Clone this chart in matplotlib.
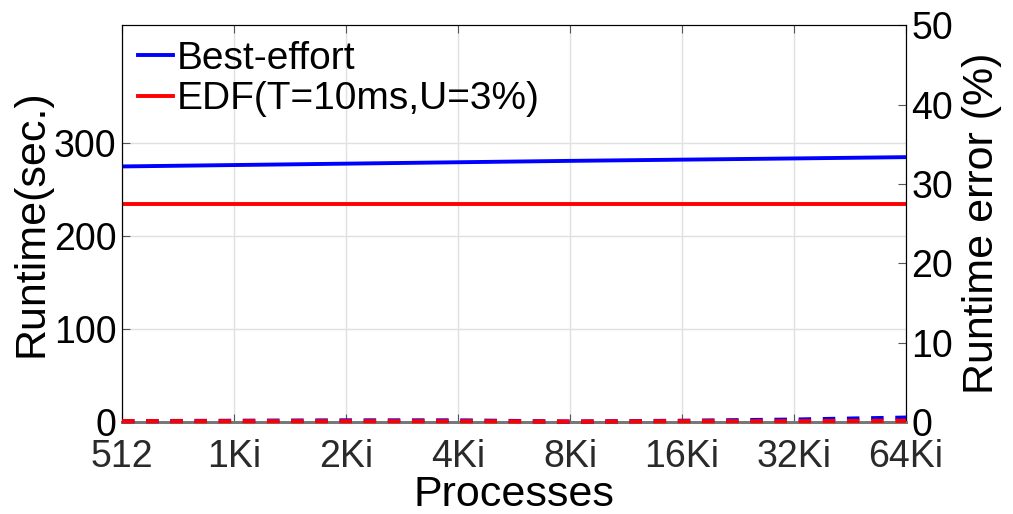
import numpy as np
import matplotlib.pyplot as plt

plt.rcParams['font.family'] = ['Liberation Sans', 'DejaVu Sans']

procs = ['512', '1Ki', '2Ki', '4Ki', '8Ki', '16Ki', '32Ki', '64Ki']
runtime_be = [275, 276.5, 278, 279.5, 281, 282.3, 283.6, 285]
runtime_edf = [235, 235, 235, 235, 235, 235, 235, 235]
err_be = [0.1, 0.15, 0.2, 0.2, 0.05, 0.15, 0.3, 0.55]
err_edf = [0.1, 0.1, 0.1, 0.1, 0.05, 0.1, 0.1, 0.15]

x = np.arange(len(procs))

fig = plt.figure(figsize=(10.13, 5.14), dpi=100)
ax = fig.add_axes([0.1204, 0.179, 0.7740, 0.772])
ax2 = ax.twinx()

ax.plot(x, runtime_be, color='blue', lw=2.8, label='Best-effort')
ax.plot(x, runtime_edf, color='red', lw=2.8, label='EDF(T=10ms,U=3%)')
ax2.plot(x, err_be, color='blue', lw=3, ls=(0, (3, 2.8)), clip_on=False, zorder=5)
ax2.plot(x, err_edf, color='red', lw=3, ls=(0, (3, 2.8)), clip_on=False, zorder=6)

ax.set_xlim(0, len(procs) - 1)
ax.set_ylim(0, 427)
ax.set_yticks([0, 100, 200, 300])
ax2.set_ylim(0, 50)
ax2.set_yticks([0, 10, 20, 30, 40, 50])
ax.set_xticks(x)
ax.set_xticklabels(procs)

ax.grid(True, color='#e0e0e0', lw=1)
ax.set_axisbelow(True)
ax.tick_params(axis='both', labelsize=27, direction='in', length=6, color='#555555', top=True)
ax.tick_params(axis='x', pad=12, labelcolor='#2a2a2a')
ax.tick_params(axis='y', pad=4)
ax2.tick_params(axis='y', labelsize=27, direction='in', length=6, color='#555555', pad=4)
ax.spines['bottom'].set_color('#777777')
ax.spines['bottom'].set_linewidth(2)
ax2.spines['bottom'].set_color('#777777')
ax2.spines['bottom'].set_linewidth(2)

ax.set_xlabel('Processes', fontsize=31, labelpad=0)
ax.set_ylabel('Runtime(sec.)', fontsize=31, labelpad=2)
ax2.set_ylabel('Runtime error (%)', fontsize=31, labelpad=6)

ax.legend(loc='upper left', fontsize=28, frameon=False, handlelength=0.9,
          handletextpad=0.1, labelspacing=0.12, borderaxespad=0.1, borderpad=0.3)

fig.savefig('out.png', dpi=100)
